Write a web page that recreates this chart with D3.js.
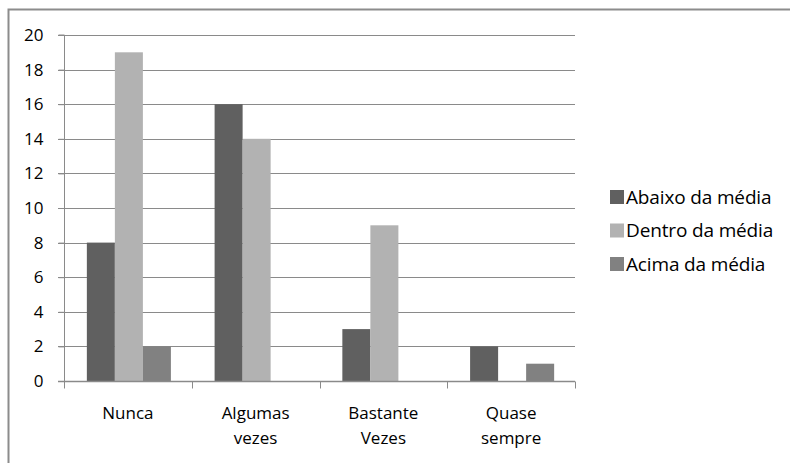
<!DOCTYPE html>
<html><head><meta charset="utf-8">
<script src="https://cdn.jsdelivr.net/npm/d3@7"></script>
<style>body{margin:0;background:#fff}svg{display:block}text{font-family:"Open Sans","Noto Sans",sans-serif;fill:#000}</style>
</head><body>
<svg id="c" width="790" height="463"></svg>
<script>
const categories = [["Nunca"], ["Algumas", "vezes"], ["Bastante", "Vezes"], ["Quase", "sempre"]];
const seriesNames = ["Abaixo da média", "Dentro da média", "Acima da média"];
const seriesColors = ["#606060", "#b2b2b2", "#818181"];
const abaixo = [8, 16, 3, 2];
const dentro = [19, 14, 9, 0];
const acima = [2, 0, 0, 1];
const yTicks = [0, 2, 4, 6, 8, 10, 12, 14, 16, 18, 20];
const seriesValues = [abaixo, dentro, acima];

(function () {
const svg = d3.select("#c");
svg.append("path").attr("d", "M8.5,463 V9.5 H790").attr("fill", "none").attr("stroke", "#8c8c8c").attr("stroke-width", 2);

const pL = 64, pR = 575, pT = 35, pB = 381;
const x = d3.scaleBand().domain(d3.range(categories.length)).range([pL, pR]).paddingInner(0).paddingOuter(0);
const y = d3.scaleLinear().domain([0, 20]).range([pB, pT]);
const x1 = d3.scaleBand().domain(d3.range(3)).range([0, x.bandwidth()]).paddingOuter(0.78).paddingInner(0);

svg.append("g").selectAll("line").data(yTicks.filter(d => d > 0)).join("line")
  .attr("x1", pL - 6).attr("x2", pR).attr("y1", d => Math.round(y(d)) + 0.5).attr("y2", d => Math.round(y(d)) + 0.5)
  .attr("stroke", "#8a8a8a").attr("stroke-width", 1);

const g = svg.append("g");
categories.forEach((c, i) => {
  seriesValues.forEach((vals, s) => {
    if (vals[i] > 0) {
      g.append("rect").attr("x", x(i) + x1(s) + 1).attr("width", x1.bandwidth())
        .attr("y", y(vals[i])).attr("height", y(0) - y(vals[i])).attr("fill", seriesColors[s]);
    }
  });
});

const yAxis = d3.axisLeft(y).tickValues(yTicks).tickSize(6).tickPadding(15);
const ya = svg.append("g").attr("transform", `translate(${pL + 0.5},0)`).call(yAxis);
ya.select(".domain").attr("stroke", "#8a8a8a").attr("d", `M-6,${pT}H0V${pB}`);
ya.selectAll(".tick line").attr("stroke", "#8a8a8a");
ya.selectAll(".tick text").attr("font-size", 17).attr("font-family", "'Open Sans','Noto Sans',sans-serif").attr("fill", "#000");

const xa = svg.append("g").attr("transform", `translate(0,${pB + 0.5})`);
xa.append("line").attr("x1", pL - 6).attr("x2", pR).attr("stroke", "#8a8a8a").attr("stroke-width", 1.5);
const ticksX = d3.range(categories.length + 1).map(i => i < categories.length ? x(i) : x(i - 1) + x.bandwidth());
xa.selectAll("line.t").data(ticksX).join("line").attr("class", "t")
  .attr("x1", d => Math.round(d) + 0.5).attr("x2", d => Math.round(d) + 0.5).attr("y1", 0).attr("y2", 7).attr("stroke", "#8a8a8a");
categories.forEach((lines, i) => {
  const cx = x(i) + x.bandwidth() / 2;
  const t = xa.append("text").attr("text-anchor", "middle").attr("font-size", 17).attr("x", cx).attr("y", 37);
  lines.forEach((l, k) => t.append("tspan").attr("x", cx).attr("dy", k === 0 ? 0 : 25).text(l));
});

const lg = svg.append("g").attr("transform", "translate(610,0)");
seriesNames.forEach((n, s) => {
  const cy = 197 + s * 33.5;
  lg.append("rect").attr("x", 0).attr("y", cy - 7).attr("width", 14).attr("height", 14).attr("fill", seriesColors[s]);
  lg.append("text").attr("x", 16).attr("y", cy + 6.5).attr("font-size", 19).attr("letter-spacing", -0.15).text(n);
});
})();
</script>
</body></html>
